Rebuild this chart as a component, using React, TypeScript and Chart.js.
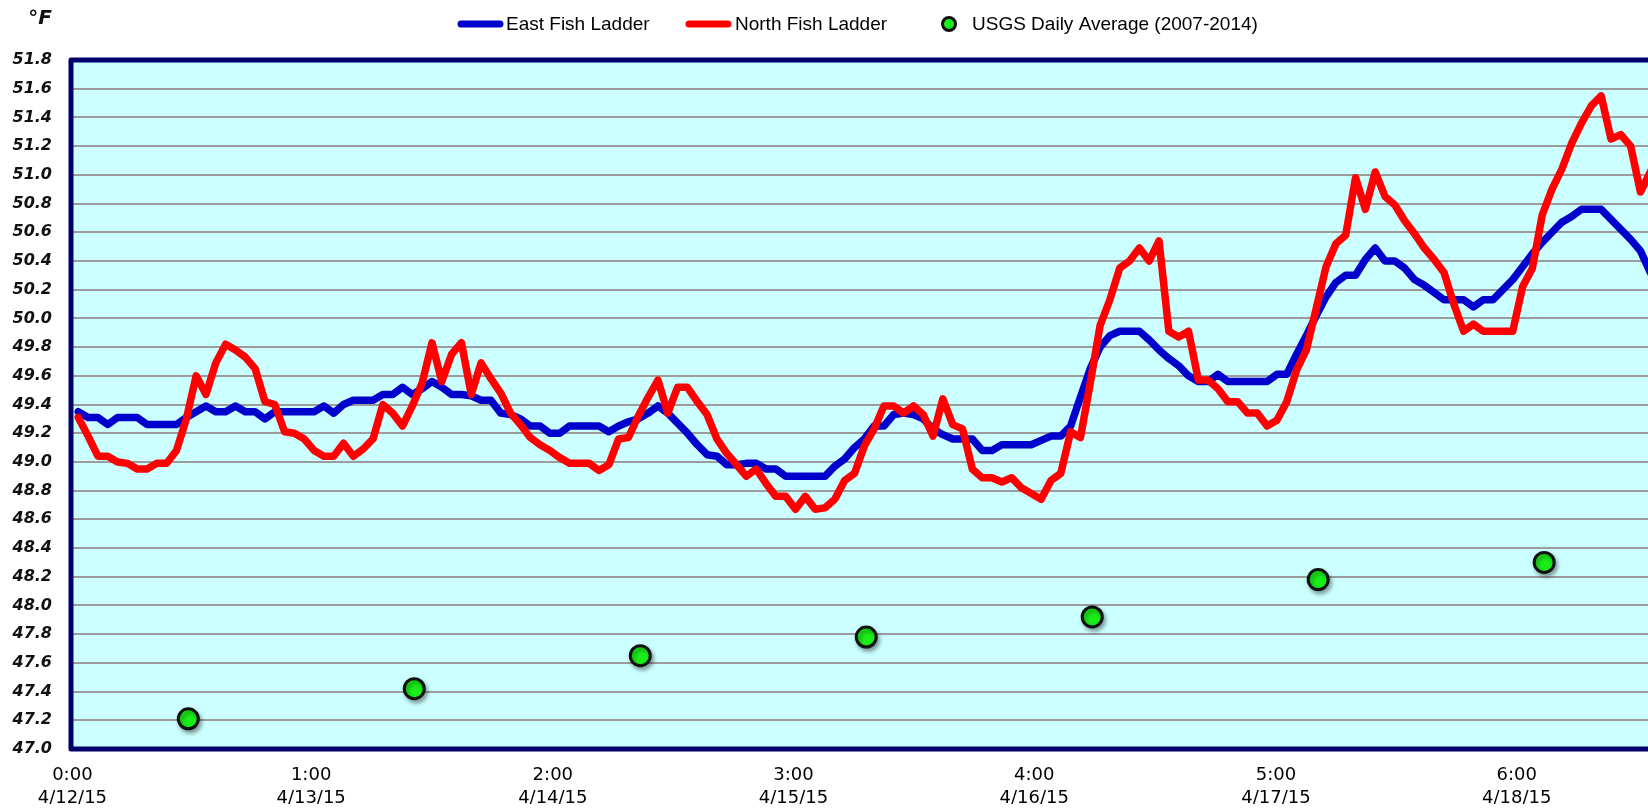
import React, { useEffect, useRef } from 'react';
import { Chart, registerables } from 'chart.js';

Chart.register(...registerables);

// Day tick labels and the position (in sample hours) at which each label sits
const dayTimeLabels = ['0:00', '1:00', '2:00', '3:00', '4:00', '5:00', '6:00'];
const dayDateLabels = ['4/12/15', '4/13/15', '4/14/15', '4/15/15', '4/16/15', '4/17/15', '4/18/15'];
const dayTickHours = [-0.6, 23.7, 48.3, 72.8, 97.3, 121.9, 146.4];

// Hourly readings (°F)
const eastFishLadder = [
  49.35, 49.31, 49.31, 49.26, 49.31, 49.31, 49.31, 49.26, 49.26, 49.26,
  49.26, 49.31, 49.35, 49.39, 49.35, 49.35, 49.39, 49.35, 49.35, 49.30,
  49.35, 49.35, 49.35, 49.35, 49.35, 49.39, 49.34, 49.40, 49.43, 49.43,
  49.43, 49.47, 49.47, 49.52, 49.47, 49.51, 49.56, 49.52, 49.47, 49.47,
  49.46, 49.43, 49.43, 49.34, 49.33, 49.30, 49.25, 49.25, 49.20, 49.20,
  49.25, 49.25, 49.25, 49.25, 49.21, 49.25, 49.28, 49.30, 49.34, 49.39,
  49.34, 49.27, 49.20, 49.12, 49.05, 49.04, 48.98, 48.98, 48.99, 48.99,
  48.95, 48.95, 48.90, 48.90, 48.90, 48.90, 48.90, 48.97, 49.02, 49.10,
  49.16, 49.25, 49.25, 49.33, 49.34, 49.33, 49.30, 49.23, 49.19, 49.16,
  49.16, 49.16, 49.08, 49.08, 49.12, 49.12, 49.12, 49.12, 49.15, 49.18,
  49.18, 49.25, 49.45, 49.65, 49.80, 49.88, 49.91, 49.91, 49.91, 49.85,
  49.78, 49.72, 49.67, 49.60, 49.56, 49.56, 49.61, 49.56, 49.56, 49.56,
  49.56, 49.56, 49.61, 49.61, 49.75, 49.88, 50.02, 50.15, 50.25, 50.30,
  50.30, 50.41, 50.49, 50.40, 50.40, 50.35, 50.27, 50.23, 50.18, 50.13,
  50.13, 50.13, 50.08, 50.13, 50.13, 50.20, 50.27, 50.36, 50.45, 50.53,
  50.60, 50.67, 50.71, 50.76, 50.76, 50.76, 50.69, 50.62, 50.55, 50.47,
  50.32, 50.20,
];

const northFishLadder = [
  49.31, 49.18, 49.04, 49.04, 49.00, 48.99, 48.95, 48.95, 48.99, 48.99,
  49.08, 49.30, 49.60, 49.47, 49.69, 49.82, 49.78, 49.73, 49.65, 49.42,
  49.40, 49.21, 49.20, 49.16, 49.08, 49.04, 49.04, 49.13, 49.04, 49.09,
  49.16, 49.40, 49.34, 49.25, 49.39, 49.55, 49.83, 49.56, 49.75, 49.83,
  49.47, 49.69, 49.58, 49.48, 49.34, 49.26, 49.17, 49.12, 49.08, 49.03,
  48.99, 48.99, 48.99, 48.94, 48.98, 49.16, 49.17, 49.32, 49.45, 49.57,
  49.34, 49.52, 49.52, 49.42, 49.33, 49.16, 49.06, 48.98, 48.90, 48.95,
  48.85, 48.76, 48.76, 48.67, 48.76, 48.67, 48.68, 48.74, 48.87, 48.92,
  49.11, 49.23, 49.39, 49.39, 49.34, 49.39, 49.33, 49.18, 49.44, 49.26,
  49.23, 48.95, 48.89, 48.89, 48.86, 48.89, 48.82, 48.78, 48.74, 48.87,
  48.92, 49.21, 49.17, 49.55, 49.95, 50.13, 50.35, 50.40, 50.49, 50.40,
  50.54, 49.91, 49.87, 49.91, 49.57, 49.57, 49.51, 49.42, 49.42, 49.34,
  49.34, 49.25, 49.29, 49.42, 49.64, 49.78, 50.07, 50.36, 50.52, 50.58,
  50.98, 50.76, 51.02, 50.85, 50.79, 50.68, 50.59, 50.49, 50.41, 50.32,
  50.10, 49.91, 49.96, 49.91, 49.91, 49.91, 49.91, 50.22, 50.35, 50.72,
  50.90, 51.04, 51.22, 51.36, 51.48, 51.55, 51.25, 51.28, 51.20, 50.88,
  51.02, 51.15,
];

// USGS daily averages (2007-2014)
const usgsHours = [11.2, 34.2, 57.2, 80.2, 103.2, 126.2, 149.2];
const usgsDailyAverage = [47.21, 47.42, 47.65, 47.78, 47.92, 48.18, 48.30];

const Y_MIN = 47.0;
const Y_MAX = 51.8;
const Y_STEP = 0.2;
const X_MIN_HOUR = -0.74;
const X_MAX_HOUR = 165.67;

const seriesNames = ['East Fish Ladder', 'North Fish Ladder', 'USGS Daily Average (2007-2014)'];

export default function App() {
  const canvasRef = useRef<HTMLCanvasElement | null>(null);

  useEffect(() => {
    const canvas = canvasRef.current;
    if (!canvas) return;

    const bgPlugin = {
      id: 'plotBg',
      beforeDraw(chart: any) {
        const { ctx, chartArea: a } = chart;
        ctx.save();
        ctx.fillStyle = '#ccffff';
        ctx.fillRect(a.left, a.top, a.right - a.left, a.bottom - a.top);
        ctx.restore();
      },
    };

    const shadowPlugin = {
      id: 'dotShadow',
      beforeDatasetDraw(chart: any, args: any) {
        if (args.index === 0) {
          const ctx = chart.ctx;
          ctx.save();
          ctx.shadowColor = 'rgba(0,0,0,0.35)';
          ctx.shadowBlur = 4;
          ctx.shadowOffsetX = 2;
          ctx.shadowOffsetY = 3;
        }
      },
      afterDatasetDraw(chart: any, args: any) {
        if (args.index === 0) chart.ctx.restore();
      },
    };

    const framePlugin = {
      id: 'frameAndLegend',
      afterDraw(chart: any) {
        const { ctx, chartArea: a } = chart;
        ctx.save();
        ctx.strokeStyle = '#00006a';
        ctx.lineWidth = 5;
        ctx.lineJoin = 'round';
        ctx.beginPath();
        ctx.moveTo(a.right + 10, a.top);
        ctx.lineTo(a.left, a.top);
        ctx.lineTo(a.left, a.bottom);
        ctx.lineTo(a.right + 10, a.bottom);
        ctx.stroke();

        ctx.fillStyle = '#111';
        ctx.font = 'italic bold 20px "DejaVu Sans"';
        ctx.textAlign = 'right';
        ctx.textBaseline = 'middle';
        ctx.fillText('°F', 44, 11);

        const ly = 16;
        ctx.font = '19px "Liberation Sans"';
        ctx.textAlign = 'left';
        ctx.lineCap = 'round';
        ctx.lineWidth = 7;
        ctx.strokeStyle = '#0000cc';
        ctx.beginPath();
        ctx.moveTo(453, ly);
        ctx.lineTo(492, ly);
        ctx.stroke();
        ctx.fillStyle = '#000';
        ctx.fillText(seriesNames[0], 498, ly + 1);

        ctx.strokeStyle = '#ff0000';
        ctx.beginPath();
        ctx.moveTo(681, ly);
        ctx.lineTo(720, ly);
        ctx.stroke();
        ctx.fillText(seriesNames[1], 727, ly + 1);

        ctx.beginPath();
        ctx.arc(941, ly, 6.5, 0, Math.PI * 2);
        ctx.fillStyle = '#1aee1a';
        ctx.fill();
        ctx.lineWidth = 3;
        ctx.strokeStyle = '#111';
        ctx.stroke();
        ctx.fillStyle = '#000';
        ctx.fillText(seriesNames[2], 964, ly + 1);
        ctx.restore();
      },
    };

    const chart = new Chart(canvas, {
      type: 'line',
      data: {
        datasets: [
          {
            label: seriesNames[2],
            type: 'scatter',
            data: usgsHours.map((h, i) => ({ x: h, y: usgsDailyAverage[i] })),
            showLine: false,
            pointRadius: 10,
            pointHoverRadius: 10,
            pointBackgroundColor: '#1aee1a',
            pointBorderColor: '#111111',
            pointBorderWidth: 3,
            order: 0,
          },
          {
            label: seriesNames[1],
            data: northFishLadder.map((v, i) => ({ x: i, y: v })),
            borderColor: '#ff0000',
            backgroundColor: '#ff0000',
            borderWidth: 7.5,
            borderJoinStyle: 'round',
            borderCapStyle: 'round',
            pointRadius: 0,
            tension: 0,
            order: 1,
          },
          {
            label: seriesNames[0],
            data: eastFishLadder.map((v, i) => ({ x: i, y: v })),
            borderColor: '#0000cc',
            backgroundColor: '#0000cc',
            borderWidth: 7.5,
            borderJoinStyle: 'round',
            borderCapStyle: 'round',
            pointRadius: 0,
            tension: 0,
            order: 2,
          },
        ],
      },
      options: {
        animation: false,
        responsive: false,
        maintainAspectRatio: false,
        layout: { autoPadding: false, padding: { top: 52, left: 0, right: 0, bottom: 0 } },
        plugins: {
          legend: { display: false },
          tooltip: { enabled: false },
        },
        scales: {
          x: {
            type: 'linear',
            min: X_MIN_HOUR,
            max: X_MAX_HOUR,
            grid: { display: false, drawTicks: false },
            border: { display: false },
            afterBuildTicks: (scale: any) => {
              scale.ticks = dayTickHours.map((h) => ({ value: h }));
            },
            afterFit: (scale: any) => {
              scale.height = 55;
            },
            ticks: {
              autoSkip: false,
              maxRotation: 0,
              minRotation: 0,
              padding: 15,
              color: '#000',
              font: { family: 'DejaVu Sans', size: 18, lineHeight: '23px' },
              callback: (value: any) => {
                let best = 0;
                dayTickHours.forEach((h, i) => {
                  if (Math.abs(h - Number(value)) < Math.abs(dayTickHours[best] - Number(value))) best = i;
                });
                return [dayTimeLabels[best], dayDateLabels[best]];
              },
            },
          },
          y: {
            min: Y_MIN,
            max: Y_MAX,
            grid: { color: '#9c9c9c', lineWidth: 2, drawTicks: false },
            border: { display: false },
            afterFit: (scale: any) => {
              scale.width = 63;
            },
            ticks: {
              stepSize: Y_STEP,
              padding: 19,
              color: '#111',
              font: { family: 'DejaVu Sans', size: 16, weight: 'bold', style: 'italic' },
              callback: (value: any) => Number(value).toFixed(1),
            },
          },
        },
      },
      plugins: [bgPlugin, shadowPlugin, framePlugin],
    });

    return () => {
      chart.destroy();
    };
  }, []);

  return (
    <div
      style={{
        position: 'fixed',
        left: 0,
        top: 0,
        width: 1648,
        height: 812,
        overflow: 'hidden',
        background: '#fff',
      }}
    >
      <canvas
        ref={canvasRef}
        width={1698}
        height={796}
        style={{ display: 'block', position: 'absolute', left: 8, top: 8 }}
      />
    </div>
  );
}
